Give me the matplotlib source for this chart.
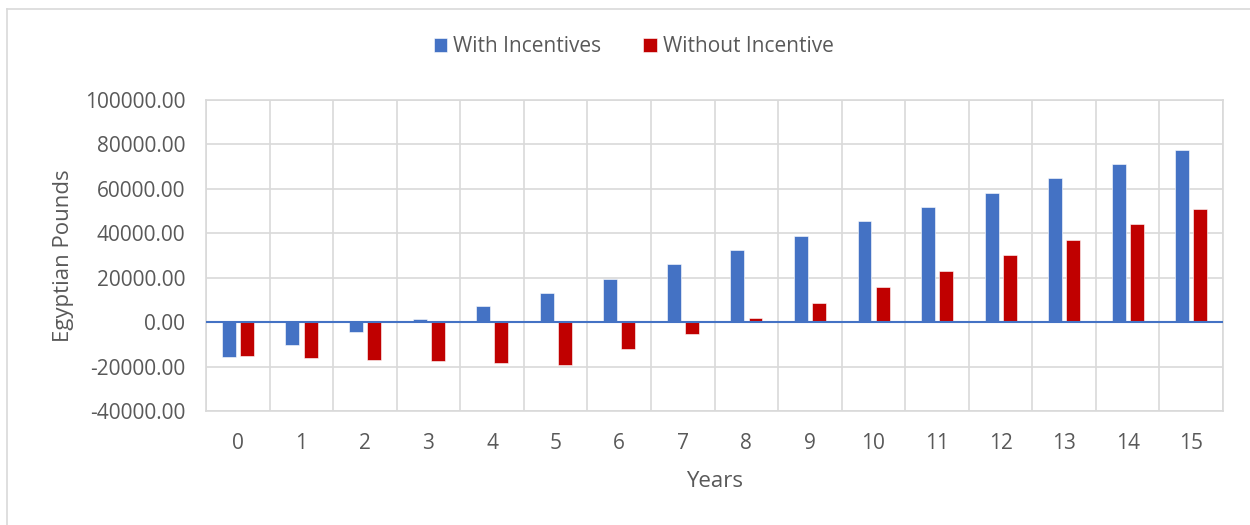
import numpy as np
import matplotlib
matplotlib.use("Agg")
import matplotlib.pyplot as plt
from matplotlib.lines import Line2D

years = list(range(16))
with_incentives = [-15850, -10200, -4400, 1300, 7100, 12900, 19400, 26000,
                   32500, 38800, 45400, 51700, 58300, 64700, 71200, 77600]
without_incentive = [-15250, -16000, -16900, -17500, -18200, -19100, -12100, -5200,
                     1650, 8700, 15900, 22900, 30000, 37000, 44000, 51100]

BLUE = "#4472C4"
RED = "#C00000"
GRID = "#D9D9D9"
TEXT = "#595959"

plt.rcParams["font.family"] = ["Open Sans", "DejaVu Sans"]

fig = plt.figure(figsize=(12.5, 5.25), dpi=100)
ax = fig.add_axes([206 / 1250, 1 - 411 / 525, (1223 - 206) / 1250, (411 - 100) / 525])

x = np.arange(len(years))
w = 0.22
ax.bar(x - 0.14, with_incentives, w, color=BLUE, edgecolor="white", linewidth=0.4,
       label="With Incentives", zorder=3)
ax.bar(x + 0.145, without_incentive, w, color=RED, edgecolor="white", linewidth=0.4,
       label="Without Incentive", zorder=3)

ax.axhline(0, color=BLUE, lw=1.5, zorder=4)

ax.set_xlim(-0.5, len(years) - 0.5)
ax.set_ylim(-40000, 100000)
yt = np.arange(-40000, 100001, 20000)
ax.set_yticks(yt)
ax.set_yticklabels([f"{v:.2f}" for v in yt])
ax.set_xticks(x)
ax.set_xticklabels([str(y) for y in years])

# category boundaries as vertical grid
for b in np.arange(-0.5, len(years), 1.0):
    ax.axvline(b, color=GRID, lw=1.2, zorder=1)
ax.grid(axis="y", color=GRID, lw=1.2, zorder=1)
ax.set_axisbelow(True)

for s in ax.spines.values():
    s.set_color(GRID)
    s.set_linewidth(1.2)

ax.tick_params(axis="both", length=0, labelsize=15, colors=TEXT)
ax.tick_params(axis="y", pad=15)
ax.tick_params(axis="x", pad=16)

ax.set_xlabel("Years", fontsize=16, color=TEXT, labelpad=12)
ax.set_ylabel("Egyptian Pounds", fontsize=16, color=TEXT, labelpad=8)

fig.legend(loc="center", bbox_to_anchor=(0.507, 1 - 47 / 525), ncol=2, frameon=False,
           fontsize=15, labelcolor=TEXT, handlelength=0.65, handleheight=0.65,
           handletextpad=0.3, columnspacing=2.0)

# chart area border (left and top)
fig.add_artist(Line2D([7 / 1250, 7 / 1250], [0, 1 - 9 / 525], color=GRID, lw=1.2))
fig.add_artist(Line2D([7 / 1250, 1], [1 - 9 / 525, 1 - 9 / 525], color=GRID, lw=1.2))

fig.savefig("out.png", dpi=100, facecolor="white")
